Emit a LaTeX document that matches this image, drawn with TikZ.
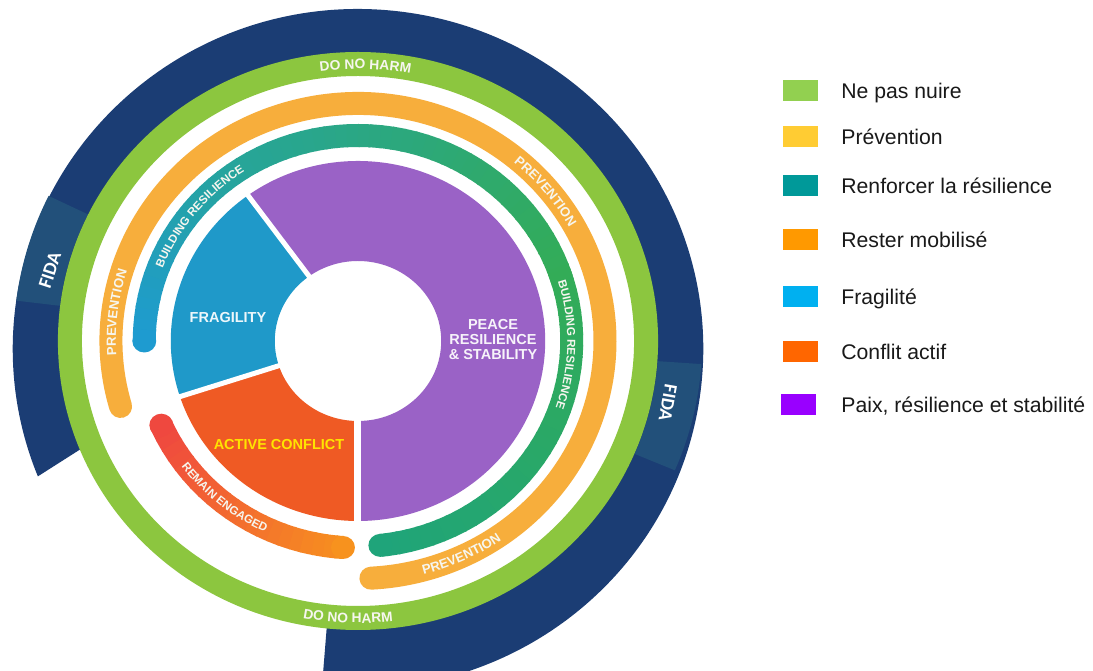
\documentclass[tikz,border=0pt]{standalone}
\usepackage{fontspec}
\setmainfont{Liberation Sans}
\newfontfamily\fidafont{Carlito}
\usetikzlibrary{positioning,decorations.text}

% ring colours
\definecolor{navyband}{HTML}{1B3D74}
\definecolor{fidabox}{HTML}{22507A}
\definecolor{harmgreen}{HTML}{8CC63F}
\definecolor{prevorange}{HTML}{F7AE3C}
\definecolor{brblue}{HTML}{1E9BD0}
\definecolor{brteal}{HTML}{27A596}
\definecolor{brgreen}{HTML}{33AC57}
\definecolor{brend}{HTML}{1FA47A}
\definecolor{rered}{HTML}{EF483F}
\definecolor{reorange}{HTML}{F7921E}
\definecolor{peacepurple}{HTML}{9A62C6}
\definecolor{fragblue}{HTML}{1F99C9}
\definecolor{conflictorange}{HTML}{EF5A24}
\definecolor{conflictyellow}{HTML}{FFE400}
\definecolor{labelwhite}{HTML}{F6F6EF}
% legend colours
\definecolor{legharm}{HTML}{92D050}
\definecolor{legprev}{HTML}{FFCC33}
\definecolor{legres}{HTML}{009999}
\definecolor{legmob}{HTML}{FF9900}
\definecolor{legfrag}{HTML}{00B0F0}
\definecolor{legconf}{HTML}{FF6600}
\definecolor{legpeace}{HTML}{9900FF}

\tikzset{
  ringlabel/.style 2 args={decorate, decoration={text along path, text align=center,
      text color=labelwhite, text={|\bfseries\fontsize{#1}{#1}\selectfont|#2}}},
  brline/.style={line width=23pt},
  segtext/.style={font=\bfseries\fontsize{14.5}{15}\selectfont, align=center, inner sep=0},
  fidatext/.style={text=white, font=\fidafont\bfseries\fontsize{19}{19}\selectfont, inner sep=0},
  legbox/.style={minimum width=35pt, minimum height=21pt, inner sep=0},
  legtext/.style={font=\fontsize{21.2}{21.2}\selectfont, text=black!90, inner sep=0,
      text height=15pt, text depth=0pt}
}

\begin{document}
\begin{tikzpicture}[x=1pt, y=1pt]
  \fill[white] (-358,-330) rectangle (735,341);
  \useasboundingbox (-358,-330) rectangle (735,341);

  \begin{scope}[x=1.04pt]
  % outer band and FIDA patches
  \fill[navyband] (202:286) arc[start angle=202, end angle=-96, radius=286]
    -- ([shift={(0,-8)}]-96:332 and 340) arc[start angle=-96, end angle=202, x radius=332, y radius=340] -- cycle;
  \fill[fidabox] (154:289) arc[start angle=154, end angle=173, radius=289] -- (173:331) arc[start angle=173, end angle=154, radius=331] -- cycle;
  \fill[fidabox] (-23:289) arc[start angle=-23, end angle=-4, radius=289] -- (-4:331) arc[start angle=-4, end angle=-23, radius=331] -- cycle;
  \draw[harmgreen, line width=24pt] (0,0) circle[radius=277]; % do no harm
  \draw[prevorange, line width=23pt, line cap=round] (196:237.5) arc[start angle=196, end angle=-87, radius=237.5]; % prevention

  % building resilience: blue -> teal -> green
  \foreach \a in {180,177,...,123}
    {\pgfmathtruncatemacro\t{(\a-120)/60*100}
     \draw[brline, draw=brblue!\t!brteal] (\a:205.5) arc[start angle=\a, end angle=\a-3.5, radius=205.5];}
  \foreach \a in {120,117,...,21}
    {\pgfmathtruncatemacro\t{\a-20}
     \draw[brline, draw=brteal!\t!brgreen] (\a:205.5) arc[start angle=\a, end angle=\a-3.5, radius=205.5];}
  \foreach \a in {20,17,...,-82}
    {\pgfmathtruncatemacro\t{(\a+84)/104*100}
     \pgfmathsetmacro\b{max(\a-3.5,-84)}
     \draw[brline, draw=brgreen!\t!brend] (\a:205.5) arc[start angle=\a, end angle=\b, radius=205.5];}
  \fill[brblue] (180:205.5) circle[radius=11.5];
  \fill[brend] (-84:205.5) circle[radius=11.5];

  % remain engaged: red -> orange
  \foreach \a in {204,207,...,264}
    {\pgfmathtruncatemacro\t{(\a-204)/62*100}
     \pgfmathsetmacro\b{min(\a+3.5,266)}
     \draw[brline, draw=reorange!\t!rered] (\a:207) arc[start angle=\a, end angle=\b, radius=207];}
  \fill[rered] (204:207) circle[radius=11.5];
  \fill[reorange] (266:207) circle[radius=11.5];

  % inner segments
  \fill[peacepurple] (-90:80) arc[start angle=-90, end angle=126, radius=80] -- (126:180) arc[start angle=126, end angle=-90, radius=180] -- cycle;
  \fill[fragblue] (126:80) arc[start angle=126, end angle=198, radius=80] -- (198:180) arc[start angle=198, end angle=126, radius=180] -- cycle;
  \fill[conflictorange] (198:80) arc[start angle=198, end angle=270, radius=80] -- (270:180) arc[start angle=270, end angle=198, radius=180] -- cycle;
  \draw[white, line width=5pt] (126:75) -- (126:185);
  \draw[white, line width=5pt] (198:75) -- (198:185);
  \draw[white, line width=7pt] (270:75) -- (270:185);

  % curved labels
  \path[ringlabel={13.8}{DO NO HARM}] (108.5:272) arc[start angle=108.5, end angle=68.5, radius=272];
  \path[ringlabel={13.8}{DO NO HARM}] (-112:282) arc[start angle=-112, end angle=-72, radius=282];
  \path[ringlabel={13.2}{PREVENTION}] (193:232.8) arc[start angle=193, end angle=153, radius=232.8];
  \path[ringlabel={13.2}{PREVENTION}] (59.5:232.8) arc[start angle=59.5, end angle=19.5, radius=232.8];
  \path[ringlabel={13.2}{PREVENTION}] (-85:242.2) arc[start angle=-85, end angle=-45, radius=242.2];
  \path[ringlabel={11.6}{BUILDING RESILIENCE}] (171:201.3) arc[start angle=171, end angle=111, radius=201.3];
  \path[ringlabel={11.6}{BUILDING RESILIENCE}] (29:201.3) arc[start angle=29, end angle=-31, radius=201.3];
  \path[ringlabel={11.6}{REMAIN ENGAGED}] (200:211.2) arc[start angle=200, end angle=261, radius=211.2];
  \end{scope}

  \node[fidatext, rotate=72] (fidaL) at (-308,71) {FIDA};
  \node[fidatext, rotate=-100] (fidaR) at (310,-62) {FIDA};

  \node[segtext, text=white!92!fragblue] (fragility) at (-130,23) {FRAGILITY};
  \node[segtext, text=white!92!peacepurple] (peace) at (135,1) {PEACE\\RESILIENCE\\\& STABILITY};
  \node[segtext, text=conflictyellow] (conflict) at (-79,-104) {ACTIVE CONFLICT};

  % legend
  \node[legbox, fill=legharm] (boxharm) at (442.5,250) {};
  \node[legtext, right=23pt of boxharm] (txtharm) {Ne pas nuire};
  \node[legbox, fill=legprev] (boxprev) at (442.5,204) {};
  \node[legtext, right=23pt of boxprev] (txtprev) {Prévention};
  \node[legbox, fill=legres] (boxres) at (442.5,155) {};
  \node[legtext, right=23pt of boxres] (txtres) {Renforcer la résilience};
  \node[legbox, fill=legmob] (boxmob) at (442.5,101) {};
  \node[legtext, right=23pt of boxmob] (txtmob) {Rester mobilisé};
  \node[legbox, fill=legfrag] (boxfrag) at (442.5,44) {};
  \node[legtext, right=23pt of boxfrag] (txtfrag) {Fragilité};
  \node[legbox, fill=legconf] (boxconf) at (442.5,-11) {};
  \node[legtext, right=23pt of boxconf] (txtconf) {Conflit actif};
  \node[legbox, fill=legpeace] (boxpeace) at (440.5,-64) {};
  \node[legtext, right=25pt of boxpeace] (txtpeace) {Paix, résilience et stabilité};
\end{tikzpicture}
\end{document}
